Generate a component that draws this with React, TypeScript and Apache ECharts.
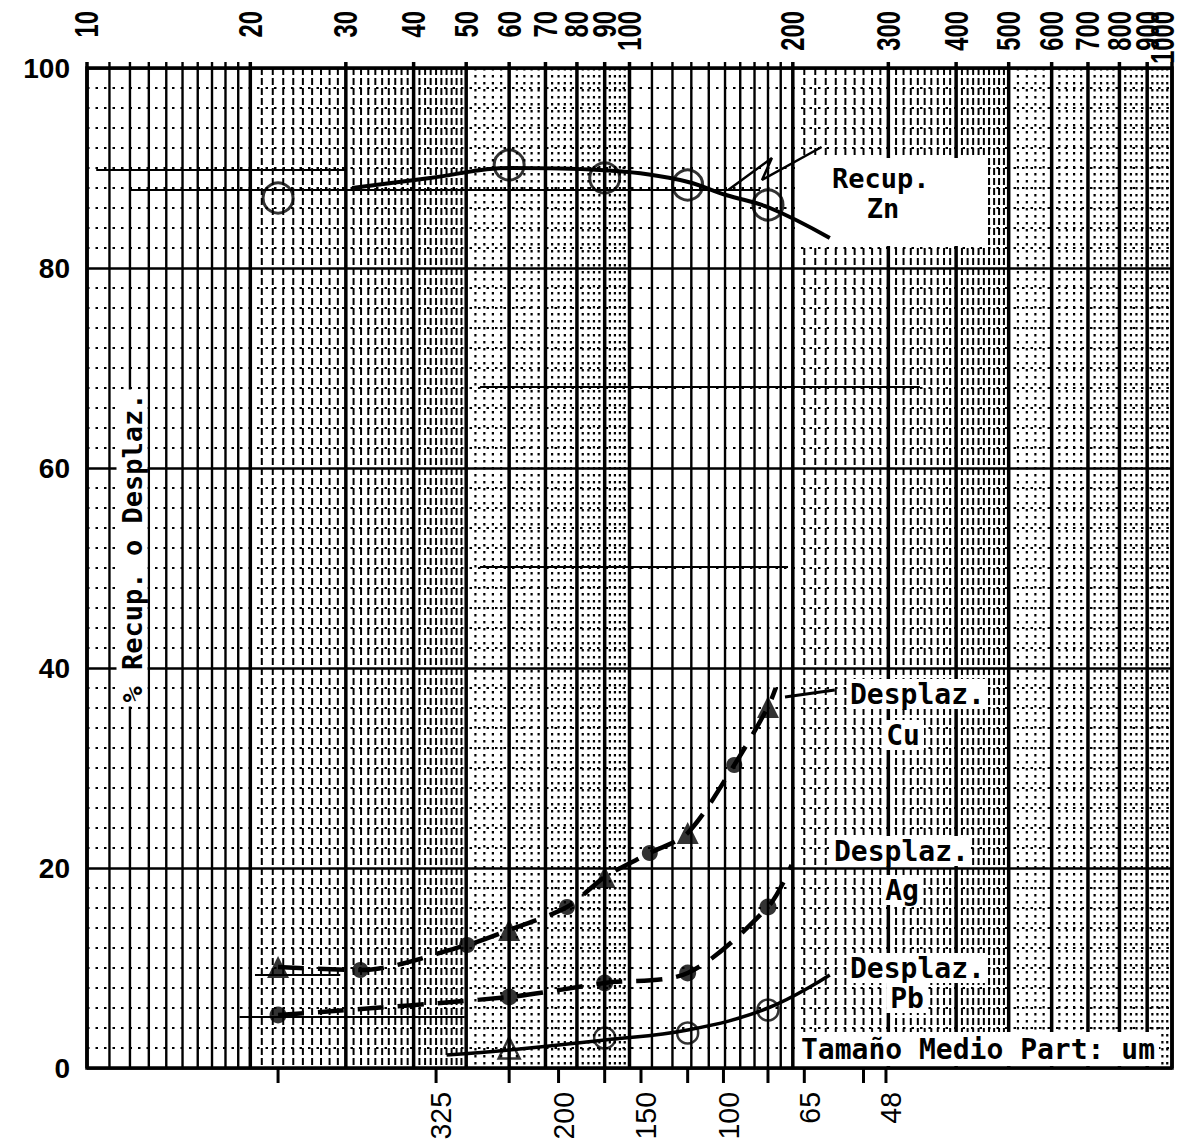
import React, { useEffect, useRef } from "react";
import * as echarts from "echarts";

// ---- Axis labels ----
const topLabelValues = [10, 20, 30, 40, 50, 60, 70, 80, 90, 100, 200, 300, 400, 500, 600, 700, 800, 900, 1000];
const topLabelTexts = ["10", "20", "30", "40", "50", "60", "70", "80", "90", "100", "200", "300", "400", "500", "600", "700", "800", "900", "1000"];

const meshSizes = [44, 74, 105, 149, 210, 297];
const meshLabels = ["325", "200", "150", "100", "65", "48"];
const bottomTickSizes = [22.5, 44, 60, 74, 90, 105, 128, 149, 180, 210, 270, 297];

// ---- Data (particle size um, %) ----
const fractionSizes = [22.5, 60, 90, 128, 180];

const znRecovery = [87.0, 90.3, 89.0, 88.3, 86.3];
const znCurveSizes = [30.8, 42.9, 60.2, 88.2, 124, 150.6, 181.5, 234];
const znCurveValues = [88.0, 89.0, 90.0, 89.8, 88.8, 87.3, 86.0, 83.0];

const cuTriangleValues = [10.1, 13.8, 19.1, 23.5, 36.1];
const cuDotSizes = [31.9, 50.2, 76.7, 109, 156];
const cuDotValues = [9.8, 12.3, 16.1, 21.5, 30.3];
const cuCurveSizes = [22.5, 31.9, 50.2, 60, 76.7, 90, 109, 128, 156, 180, 186];
const cuCurveValues = [10.1, 9.8, 12.3, 13.8, 16.1, 19.1, 21.5, 23.5, 30.3, 36.1, 38.0];

const agValues = [5.3, 7.1, 8.5, 9.5, 16.1];
const agCurveSizes = [22.5, 60, 90, 128, 180, 199];
const agCurveValues = [5.3, 7.1, 8.5, 9.5, 16.1, 20.3];

const pbSizes = [60, 90, 128, 180];
const pbValues = [2.0, 3.0, 3.5, 5.8];
const pbCurveSizes = [46, 60, 90, 128, 180, 234];
const pbCurveValues = [1.3, 1.8, 2.8, 3.8, 6.0, 9.3];

const znLeaderSizes = [152, 183, 175.5, 226];
const znLeaderValues = [87.8, 91.0, 88.8, 92.1];
const cuLeaderSizes = [193.5, 239];
const cuLeaderValues = [37.1, 37.8];

// ruled guide lines on the paper
const guideFrom = [12.0, 10.4, 53, 53, 19.1, 20.4];
const guideTo = [174, 30.0, 343, 196, 49.7, 29.3];
const guideLevel = [87.8, 89.8, 68.1, 50.1, 5.1, 9.3];

// log paper vertical rulings: [value, 0, width, style]
function buildPaperLines(): number[][] {
  const out: number[][] = [];
  for (const d of [10, 100]) {
    for (let i = 10; i <= 100; i++) {
      if (d === 100 && i === 10) continue;
      const v = (d * i) / 10;
      if (i % 10 === 0) out.push([v, 0, 3.5, 3]);
      else if (i < 20) out.push([v, 0, 2.4, 0]);
      else if (i < 50) out.push([v, 0, 2, 1]);
      else if (i % 2 === 0) out.push([v, 0, 2.2, 2]);
    }
  }
  return out;
}

const pairs = (xs: number[], ys: number[]) => xs.map((x, i) => [x, ys[i]]);

const MONO = '"DejaVu Sans Mono", monospace';
const SANS = '"Liberation Sans", Arial, sans-serif';

export default function App() {
  const ref = useRef<HTMLDivElement>(null);

  useEffect(() => {
    document.body.style.margin = "0";
    if (!ref.current) return;
    const chart = echarts.init(ref.current, undefined, { renderer: "svg" });

    const lineDashFor = (s: number) => (s === 1 ? [7, 3] : s === 2 ? [2.5, 4.5] : null);
    const lastTop = topLabelValues.length - 1;

    const option: any = {
      animation: false,
      backgroundColor: "#fff",
      grid: {
        left: 87,
        right: 13,
        top: 68,
        bottom: 80,
        show: true,
        borderColor: "#000",
        borderWidth: 3.5,
        containLabel: false,
        outerBoundsMode: "none",
      },
      xAxis: {
        type: "log",
        logBase: 10,
        min: 10,
        max: 1000,
        axisLine: { show: false },
        axisTick: { show: false },
        axisLabel: { show: false },
        splitLine: { show: false },
      },
      yAxis: {
        type: "value",
        min: 0,
        max: 100,
        interval: 20,
        axisLine: { show: false },
        axisTick: { show: false },
        axisLabel: {
          color: "#000",
          fontSize: 28,
          fontWeight: "bold",
          fontFamily: SANS,
          margin: 17,
        },
        splitLine: { show: true, lineStyle: { color: "#000", width: 2.5 } },
        minorTick: { show: false, splitNumber: 10 },
        minorSplitLine: { show: true, lineStyle: { color: "#000", width: 2, type: [2.5, 6] } },
      },
      graphic: [
        { type: "rect", z: 1, shape: { x: 798, y: 158, width: 190, height: 88 }, style: { fill: "#fff" } },
        {
          type: "text", z: 10, x: 832, y: 178,
          style: { text: "Recup.", fill: "#000", fontSize: 27, fontWeight: "bold", fontFamily: MONO, align: "left", verticalAlign: "middle" },
        },
        {
          type: "text", z: 10, x: 883, y: 208,
          style: { text: "Zn", fill: "#000", fontSize: 27, fontWeight: "bold", fontFamily: MONO, align: "center", verticalAlign: "middle" },
        },
        {
          type: "text", z: 10, x: 848, y: 694,
          style: { text: "Desplaz.", fill: "#000", fontSize: 28, fontWeight: "bold", fontFamily: MONO, align: "left", verticalAlign: "middle", backgroundColor: "#fff", padding: [1, 2] },
        },
        {
          type: "text", z: 10, x: 903, y: 735,
          style: { text: "Cu", fill: "#000", fontSize: 28, fontWeight: "bold", fontFamily: MONO, align: "center", verticalAlign: "middle", backgroundColor: "#fff", padding: [1, 4] },
        },
        {
          type: "text", z: 10, x: 832, y: 851,
          style: { text: "Desplaz.", fill: "#000", fontSize: 28, fontWeight: "bold", fontFamily: MONO, align: "left", verticalAlign: "middle", backgroundColor: "#fff", padding: [1, 2] },
        },
        {
          type: "text", z: 10, x: 902, y: 890,
          style: { text: "Ag", fill: "#000", fontSize: 28, fontWeight: "bold", fontFamily: MONO, align: "center", verticalAlign: "middle", backgroundColor: "#fff", padding: [1, 4] },
        },
        {
          type: "text", z: 10, x: 848, y: 968,
          style: { text: "Desplaz.", fill: "#000", fontSize: 28, fontWeight: "bold", fontFamily: MONO, align: "left", verticalAlign: "middle", backgroundColor: "#fff", padding: [1, 2] },
        },
        {
          type: "text", z: 10, x: 907, y: 998,
          style: { text: "Pb", fill: "#000", fontSize: 28, fontWeight: "bold", fontFamily: MONO, align: "center", verticalAlign: "middle", backgroundColor: "#fff", padding: [1, 4] },
        },
        {
          type: "text", z: 10, x: 797, y: 1049,
          style: { text: "Tamaño Medio Part: um", fill: "#000", fontSize: 28, fontWeight: "bold", fontFamily: MONO, align: "left", verticalAlign: "middle", backgroundColor: "#fff", padding: [3, 4] },
        },
        {
          type: "text", z: 10, x: 132, y: 548, rotation: Math.PI / 2,
          style: { text: "% Recup. o Desplaz.", fill: "#000", fontSize: 27, fontWeight: "bold", fontFamily: MONO, align: "center", verticalAlign: "middle", backgroundColor: "#fff", padding: [2, 4] },
        },
      ],
      series: [
        {
          type: "custom",
          name: "paper",
          z: 0,
          silent: true,
          encode: { x: 0, y: 1 },
          data: buildPaperLines(),
          renderItem: (params: any, api: any) => {
            const v = api.value(0);
            const w = api.value(2);
            const s = api.value(3);
            const top = api.coord([v, 100]);
            const bot = api.coord([v, 0]);
            return {
              type: "line",
              shape: { x1: top[0], y1: top[1] - (s === 0 || s === 3 ? 6 : 0), x2: bot[0], y2: bot[1] },
              style: { stroke: "#000", lineWidth: w, lineDash: lineDashFor(s) },
            };
          },
        },
        {
          type: "custom",
          name: "guides",
          z: 0,
          silent: true,
          encode: { x: [0, 1], y: 2 },
          data: guideFrom.map((f, i) => [f, guideTo[i], guideLevel[i]]),
          renderItem: (params: any, api: any) => {
            const a = api.coord([api.value(0), api.value(2)]);
            const b = api.coord([api.value(1), api.value(2)]);
            return {
              type: "line",
              shape: { x1: a[0], y1: a[1], x2: b[0], y2: b[1] },
              style: { stroke: "#000", lineWidth: 2.2 },
            };
          },
        },
        {
          type: "custom",
          name: "topLabels",
          z: 4,
          silent: true,
          encode: { x: 0, y: 1 },
          data: topLabelValues.map((v) => [v, 100]),
          renderItem: (params: any, api: any) => {
            const p = api.coord([api.value(0), 100]);
            const isLast = params.dataIndex === lastTop;
            return {
              type: "text",
              x: p[0] - (isLast ? 9 : 0),
              y: p[1] - 57,
              rotation: Math.PI / 2,
              scaleX: 0.72,
              style: {
                text: topLabelTexts[params.dataIndex],
                fill: "#000",
                fontSize: 33,
                fontWeight: "bold",
                fontFamily: SANS,
                align: "right",
                verticalAlign: "middle",
              },
            };
          },
        },
        {
          type: "custom",
          name: "bottomTicks",
          z: 4,
          silent: true,
          encode: { x: 0, y: 1 },
          data: bottomTickSizes.map((v) => [v, 0]),
          renderItem: (params: any, api: any) => {
            const p = api.coord([api.value(0), 0]);
            return {
              type: "line",
              shape: { x1: p[0], y1: p[1], x2: p[0], y2: p[1] + 15 },
              style: { stroke: "#000", lineWidth: 3 },
            };
          },
        },
        {
          type: "custom",
          name: "meshLabels",
          z: 4,
          silent: true,
          encode: { x: 0, y: 1 },
          data: meshSizes.map((v) => [v, 0]),
          renderItem: (params: any, api: any) => {
            const p = api.coord([api.value(0), 0]);
            return {
              type: "text",
              x: p[0] + 5,
              y: p[1] + 24,
              rotation: Math.PI / 2,
              scaleX: 0.95,
              style: {
                text: meshLabels[params.dataIndex],
                fill: "#000",
                fontSize: 30,
                fontFamily: SANS,
                align: "right",
                verticalAlign: "middle",
              },
            };
          },
        },
        {
          type: "line",
          name: "Recup. Zn curve",
          z: 5,
          data: pairs(znCurveSizes, znCurveValues),
          smooth: 0.4,
          showSymbol: false,
          symbol: "none",
          lineStyle: { color: "#000", width: 4 },
        },
        {
          type: "scatter",
          name: "Recup. Zn",
          z: 6,
          data: pairs(fractionSizes, znRecovery),
          symbol: "circle",
          symbolSize: 30,
          itemStyle: { color: "rgba(255,255,255,0)", borderColor: "#000", borderWidth: 3 },
        },
        {
          type: "line",
          name: "Desplaz. Cu curve",
          z: 5,
          data: pairs(cuCurveSizes, cuCurveValues),
          smooth: 0.3,
          symbol: "none",
          lineStyle: { color: "#000", width: 4.5, type: [26, 14] },
        },
        {
          type: "scatter",
          name: "Desplaz. Cu (triangles)",
          z: 6,
          data: pairs(fractionSizes, cuTriangleValues),
          symbol: "triangle",
          symbolSize: 22,
          itemStyle: { color: "#000" },
        },
        {
          type: "scatter",
          name: "Desplaz. Cu (dots)",
          z: 6,
          data: pairs(cuDotSizes, cuDotValues),
          symbol: "circle",
          symbolSize: 16,
          itemStyle: { color: "#000" },
        },
        {
          type: "line",
          name: "Desplaz. Ag curve",
          z: 5,
          data: pairs(agCurveSizes, agCurveValues),
          smooth: 0.3,
          symbol: "none",
          lineStyle: { color: "#000", width: 4.5, type: [26, 14] },
        },
        {
          type: "scatter",
          name: "Desplaz. Ag",
          z: 6,
          data: pairs(fractionSizes, agValues),
          symbol: "circle",
          symbolSize: 17,
          itemStyle: { color: "#000" },
        },
        {
          type: "line",
          name: "Desplaz. Pb curve",
          z: 5,
          data: pairs(pbCurveSizes, pbCurveValues),
          smooth: 0.4,
          symbol: "none",
          lineStyle: { color: "#000", width: 3.5 },
        },
        {
          type: "scatter",
          name: "Desplaz. Pb",
          z: 6,
          data: pairs(pbSizes, pbValues),
          symbol: (val: any, params: any) => (params.dataIndex === 0 ? "triangle" : "circle"),
          symbolSize: 21,
          itemStyle: { color: "rgba(255,255,255,0)", borderColor: "#000", borderWidth: 2.5 },
        },
        {
          type: "line",
          name: "Zn leader",
          z: 5,
          data: pairs(znLeaderSizes, znLeaderValues),
          symbol: "none",
          lineStyle: { color: "#000", width: 2.5 },
        },
        {
          type: "line",
          name: "Cu leader",
          z: 5,
          data: pairs(cuLeaderSizes, cuLeaderValues),
          symbol: "none",
          lineStyle: { color: "#000", width: 3 },
        },
      ],
    };

    chart.setOption(option);
    return () => chart.dispose();
  }, []);

  return <div ref={ref} style={{ width: 1185, height: 1148 }} />;
}
